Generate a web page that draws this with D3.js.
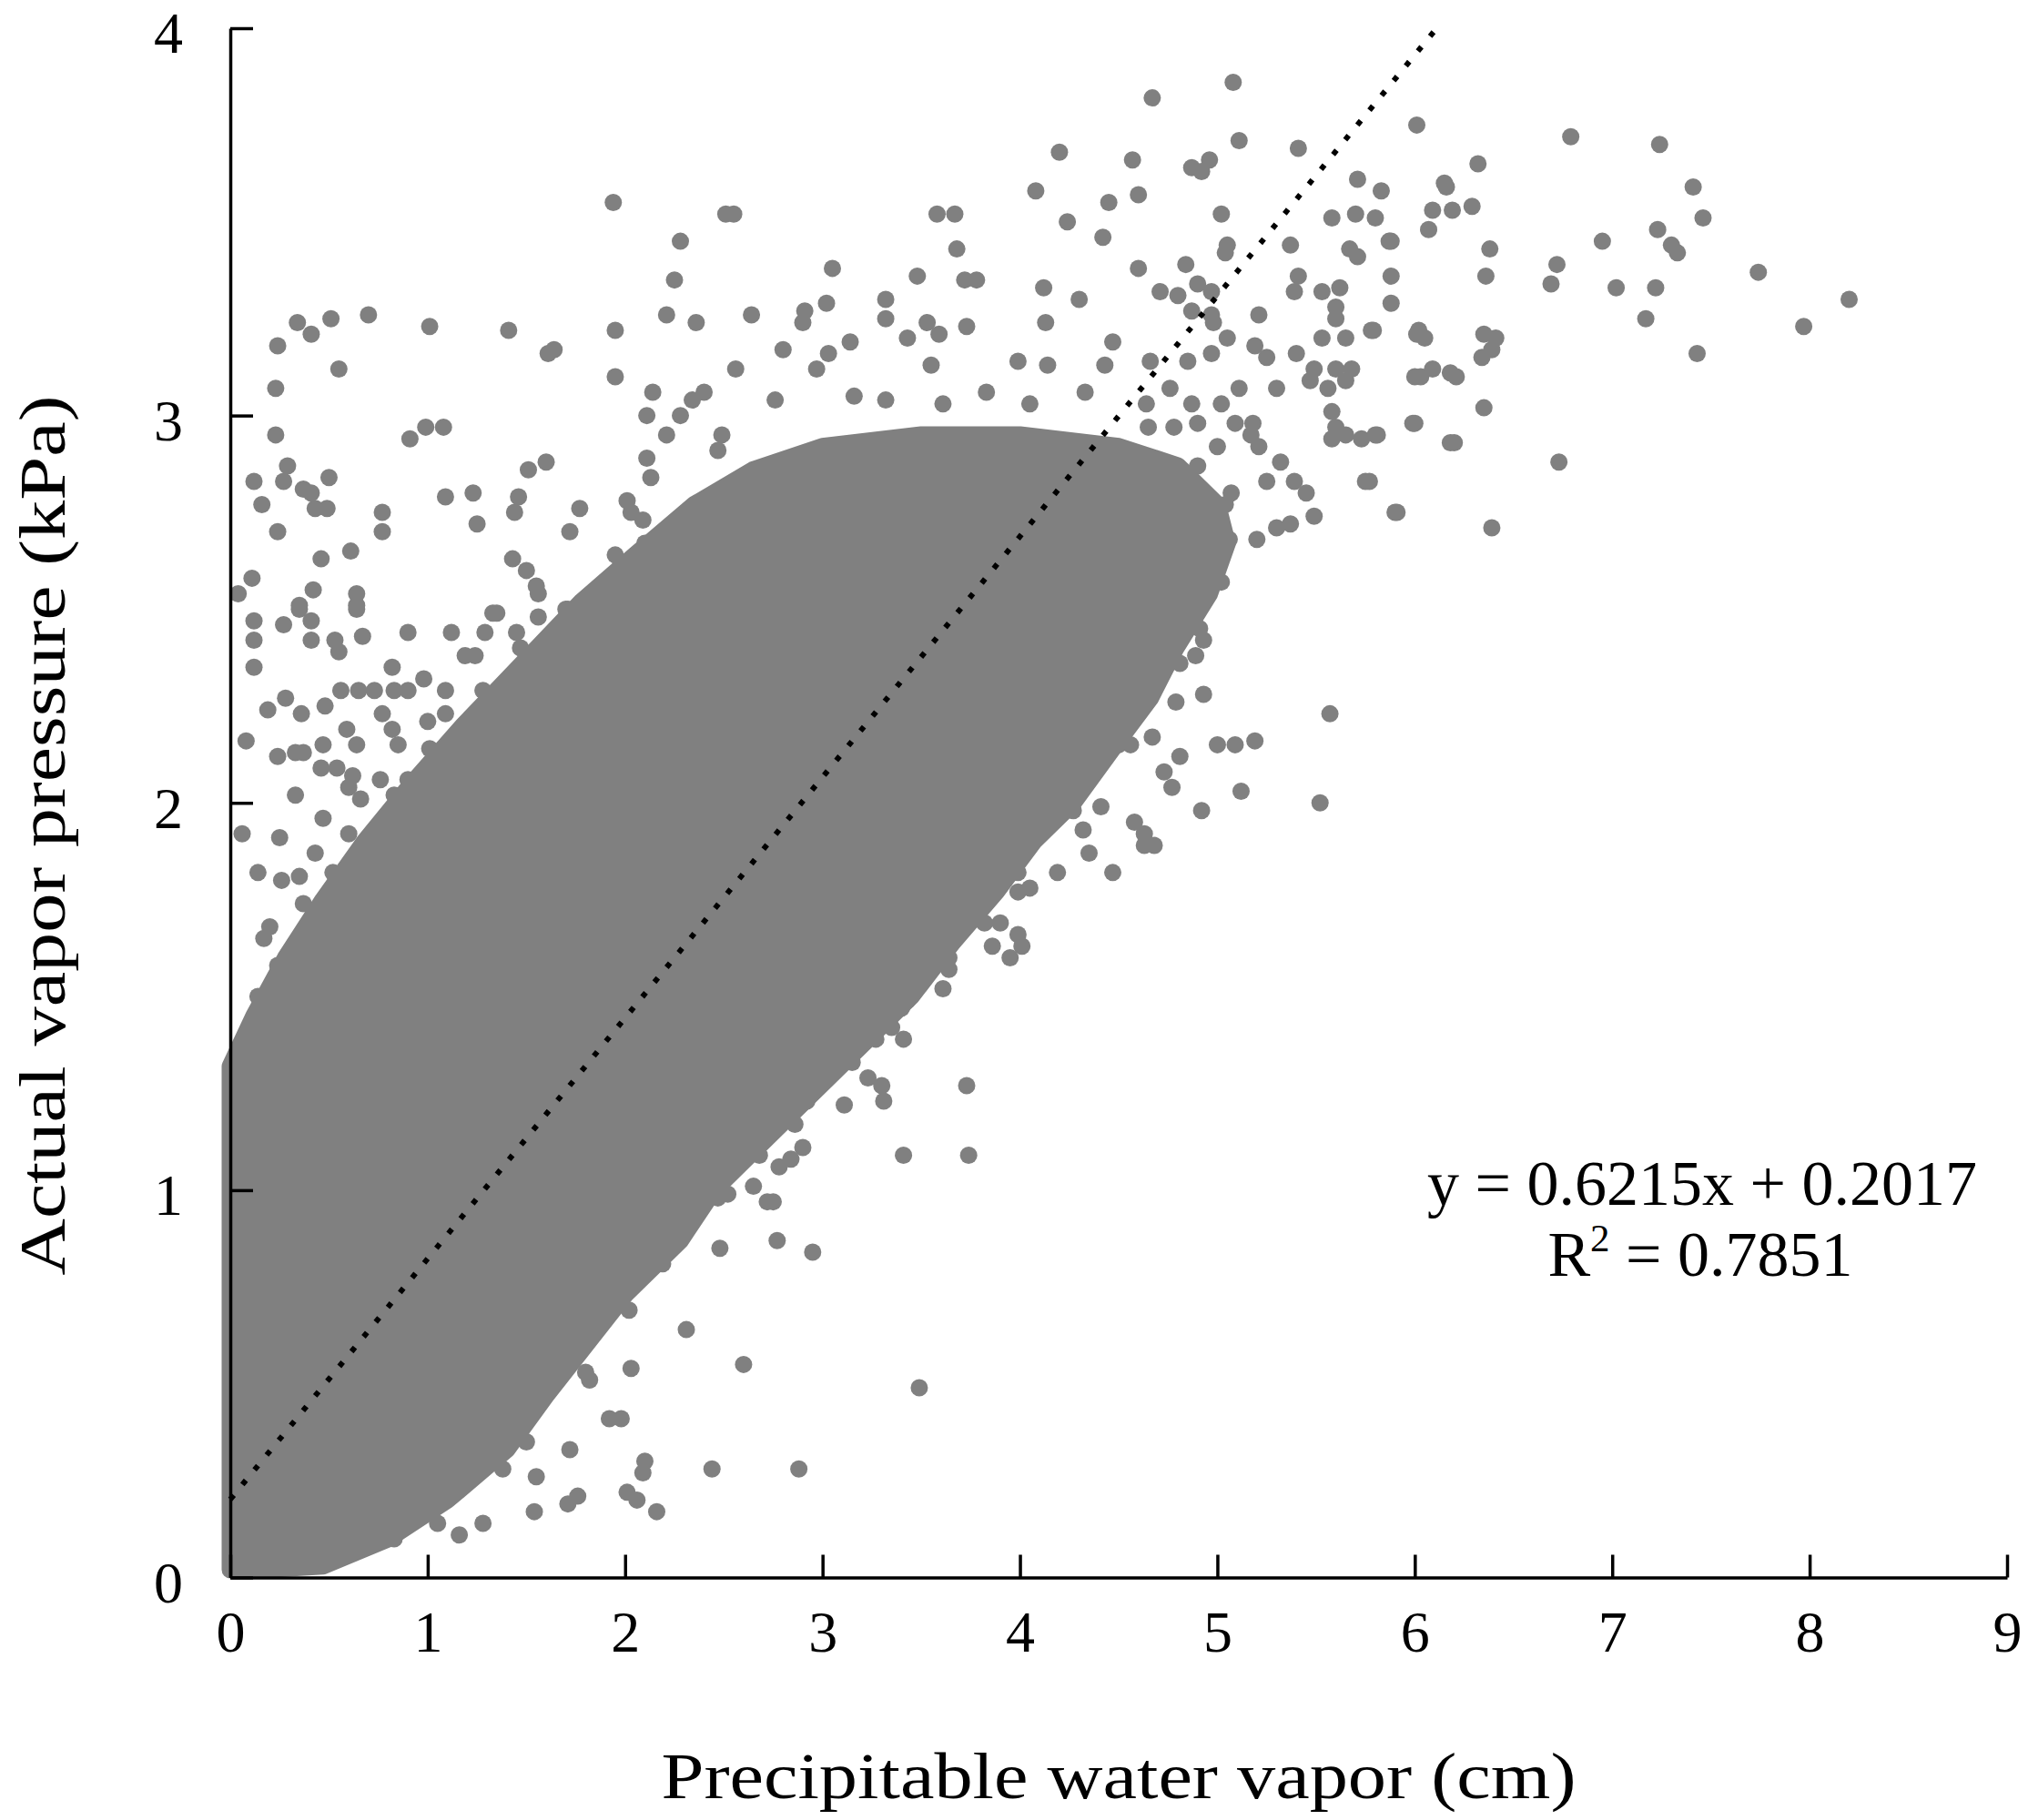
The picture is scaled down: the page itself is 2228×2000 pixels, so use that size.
<!DOCTYPE html>
<html>
<head>
<meta charset="utf-8">
<script src="https://cdn.jsdelivr.net/npm/d3@7"></script>
<style>
  body { margin: 0; background: #fff; }
  svg { display: block; }
  text { font-family: "Liberation Serif", "Times New Roman", serif; fill: #000; }
</style>
</head>
<body>
<div id="chart"></div>
<script>
// axis ticks
var xTicks = [0, 1, 2, 3, 4, 5, 6, 7, 8, 9];
var yTicks = [0, 1, 2, 3, 4];
var xTitle = 'Precipitable water vapor (cm)';
var yTitle = 'Actual vapor pressure (kPa)';

// fitted line as printed on the chart
var fitSlope = 0.6215, fitIntercept = 0.2017, fitR2 = 0.7851;
var trendLine = [[0, 0.2017], [6.111, 4]];

// outline of the saturated (solid) part of the cloud, [pwv, e]
var coreOutline = [
  [0, 0.02], [0, 1.32], [0.12, 1.45], [0.28, 1.6], [0.47, 1.75], [0.68, 1.9], [0.92, 2.05], [1.18, 2.2],
  [1.48, 2.36], [1.78, 2.52], [2.05, 2.64], [2.35, 2.77], [2.65, 2.86], [3.0, 2.92], [3.5, 2.95], [4.0, 2.95],
  [4.5, 2.92], [4.8, 2.87], [5.0, 2.77], [5.05, 2.67], [4.96, 2.54], [4.79, 2.40], [4.66, 2.27], [4.47, 2.14],
  [4.27, 2.0], [4.07, 1.9], [3.88, 1.77], [3.66, 1.64], [3.45, 1.5], [3.25, 1.4], [3.05, 1.3], [2.85, 1.2],
  [2.65, 1.1], [2.45, 1.0], [2.28, 0.87], [2.0, 0.73], [1.8, 0.6], [1.6, 0.47], [1.4, 0.33], [1.1, 0.2],
  [0.8, 0.1], [0.47, 0.03], [0.14, 0.02]
];

// scattered observations outside the solid cloud, [pwv, e]
var upperLeftPoints = [
  [1.94, 3.55], [2.28, 3.45], [2.25, 3.35], [2.21, 3.26], [2.36, 3.24], [1.95, 3.22], [1.95, 3.10], [2.51, 3.52],
  [2.14, 3.06], [2.11, 3.00], [2.21, 2.95], [2.28, 3.00], [2.34, 3.04], [2.40, 3.06], [2.11, 2.89], [2.13, 2.84],
  [2.47, 2.91], [2.49, 2.95], [0.34, 3.24], [0.41, 3.21], [0.51, 3.25], [0.70, 3.26], [0.24, 3.18], [0.55, 3.12],
  [0.23, 3.07], [0.23, 2.95], [1.01, 3.23], [1.41, 3.22], [1.61, 3.16], [1.64, 3.17], [0.91, 2.94], [0.99, 2.97],
  [1.08, 2.97], [0.29, 2.87], [0.27, 2.83], [0.12, 2.83], [0.16, 2.77], [0.37, 2.81], [0.41, 2.80], [0.43, 2.76],
  [0.49, 2.76], [0.50, 2.84], [0.24, 2.70], [0.77, 2.75], [0.77, 2.70], [1.09, 2.79], [1.23, 2.80], [1.25, 2.72],
  [1.46, 2.79], [1.44, 2.75], [1.51, 2.86], [1.60, 2.88], [1.77, 2.76], [1.72, 2.70], [1.95, 2.64], [1.43, 2.63],
  [1.50, 2.60], [1.55, 2.56], [0.46, 2.63], [0.61, 2.65], [0.11, 2.58], [0.04, 2.54], [0.42, 2.55], [0.35, 2.51],
  [0.64, 2.54], [0.64, 2.51], [2.09, 2.73], [2.10, 2.67], [2.22, 2.63], [2.01, 2.78], [2.03, 2.75],
  [1.33, 2.49], [1.56, 2.48], [1.70, 2.50], [1.87, 2.46]
];

var leftPoints = [
  [0.12, 2.47], [0.12, 2.42], [0.12, 2.35], [0.27, 2.46], [0.41, 2.47], [0.35, 2.50], [0.41, 2.42], [0.53, 2.42],
  [0.55, 2.39], [0.64, 2.50], [0.67, 2.43], [0.90, 2.44], [1.12, 2.44], [1.19, 2.38], [1.24, 2.38], [1.35, 2.49],
  [1.29, 2.44], [1.45, 2.44], [1.47, 2.40], [1.56, 2.54], [1.71, 2.50], [1.77, 2.47], [1.69, 2.41], [1.78, 2.40],
  [1.89, 2.43], [2.06, 2.44], [0.08, 2.16], [0.19, 2.24], [0.28, 2.27], [0.36, 2.23], [0.48, 2.25], [0.56, 2.29],
  [0.65, 2.29], [0.73, 2.29], [0.83, 2.29], [0.90, 2.29], [0.98, 2.32], [0.82, 2.35], [0.77, 2.23], [0.82, 2.19],
  [1.00, 2.21], [1.09, 2.23], [1.09, 2.29], [1.28, 2.29], [1.23, 2.20], [1.34, 2.24], [1.40, 2.21], [1.50, 2.32],
  [1.53, 2.23], [1.63, 2.32], [0.24, 2.12], [0.33, 2.13], [0.37, 2.13], [0.47, 2.15], [0.59, 2.19], [0.64, 2.15],
  [0.46, 2.09], [0.54, 2.09], [0.62, 2.07], [0.60, 2.04], [0.66, 2.01], [0.76, 2.06], [0.83, 2.02], [0.90, 2.06],
  [0.97, 2.03], [1.06, 2.04], [0.85, 2.15], [1.01, 2.14], [1.10, 2.13], [1.22, 2.14], [0.33, 2.02], [0.06, 1.92],
  [0.14, 1.82], [0.25, 1.91], [0.26, 1.80], [0.20, 1.68], [0.17, 1.65], [0.35, 1.81], [0.43, 1.87], [0.47, 1.96],
  [0.37, 1.74], [0.60, 1.92], [0.52, 1.82], [0.58, 1.81], [0.62, 1.77], [0.71, 1.87], [0.72, 1.82], [0.83, 1.82],
  [0.91, 1.96], [0.78, 1.93], [0.52, 1.71], [0.66, 1.75], [0.70, 1.71], [0.74, 1.66], [0.83, 1.68], [0.24, 1.58],
  [0.33, 1.54], [0.46, 1.60], [0.52, 1.58], [0.58, 1.63], [0.66, 1.64], [0.14, 1.50], [0.19, 1.46], [0.26, 1.47],
  [0.37, 1.47], [0.47, 1.51], [0.58, 1.50], [0.68, 1.54], [0.77, 1.49], [0.08, 1.37], [0.16, 1.33], [0.20, 1.38],
  [0.32, 1.35], [0.41, 1.32], [0.42, 1.39], [0.52, 1.38], [0.21, 1.26], [0.23, 1.20], [0.33, 1.21], [0.29, 1.17],
  [0.15, 1.13], [0.12, 1.06], [0.23, 1.09], [0.21, 1.03], [0.31, 1.06], [0.11, 0.91], [0.06, 0.72]
];

var topPoints = [
  [5.08, 3.86], [4.67, 3.82], [6.01, 3.75], [5.11, 3.71], [5.41, 3.69], [4.20, 3.68], [4.57, 3.66], [4.87, 3.64],
  [4.96, 3.66], [4.92, 3.63], [4.08, 3.58], [4.60, 3.57], [4.45, 3.55], [4.24, 3.50], [4.42, 3.46], [5.02, 3.52],
  [5.71, 3.61], [5.83, 3.58], [5.58, 3.51], [5.70, 3.52], [5.80, 3.51], [6.15, 3.60], [6.09, 3.53], [6.07, 3.48],
  [5.37, 3.44], [5.05, 3.44], [5.04, 3.42], [5.87, 3.45], [5.67, 3.43], [5.71, 3.41], [2.55, 3.52], [3.58, 3.52],
  [3.67, 3.52], [3.68, 3.43], [3.05, 3.38], [3.48, 3.36], [3.72, 3.35], [3.78, 3.35], [4.12, 3.33], [4.60, 3.38],
  [4.84, 3.39], [5.41, 3.36], [5.39, 3.32], [5.88, 3.36], [5.88, 3.29], [5.53, 3.32], [5.62, 3.33], [5.60, 3.28],
  [5.60, 3.25], [3.02, 3.29], [4.30, 3.30], [4.71, 3.32], [4.80, 3.31], [4.90, 3.34], [4.97, 3.32], [2.64, 3.26],
  [2.90, 3.24], [2.91, 3.27], [3.32, 3.30], [3.32, 3.25], [4.13, 3.24], [5.21, 3.26], [4.97, 3.26], [4.98, 3.24],
  [4.87, 3.27], [5.78, 3.22], [6.01, 3.21], [5.53, 3.20], [5.65, 3.20], [3.53, 3.24], [3.59, 3.21], [3.43, 3.20],
  [3.73, 3.23], [5.05, 3.20], [4.47, 3.19], [2.80, 3.17], [3.14, 3.19], [5.19, 3.18], [5.25, 3.15], [5.40, 3.16],
  [6.09, 3.12], [6.00, 3.10], [6.18, 3.11], [5.49, 3.12], [5.68, 3.12], [5.60, 3.12], [5.47, 3.09], [5.56, 3.07],
  [5.65, 3.09], [4.97, 3.16], [4.85, 3.14], [4.43, 3.13], [4.66, 3.14], [2.56, 3.12], [2.97, 3.12], [3.03, 3.16],
  [3.55, 3.13], [3.99, 3.14], [4.14, 3.13], [5.11, 3.07], [5.30, 3.07], [2.76, 3.04], [3.16, 3.05], [3.32, 3.04],
  [3.61, 3.03], [3.83, 3.06], [4.05, 3.03], [4.33, 3.06], [4.64, 3.03], [4.76, 3.07], [5.02, 3.03]
];

var upperRightPoints = [
  [5.58, 3.01], [5.99, 2.98], [6.18, 2.93], [5.60, 2.97], [5.65, 2.95], [5.58, 2.94], [5.73, 2.94], [5.80, 2.95],
  [5.18, 2.98], [5.17, 2.95], [5.21, 2.92], [5.32, 2.88], [5.75, 2.83], [5.91, 2.75], [5.25, 2.83], [5.39, 2.83],
  [5.45, 2.80], [5.49, 2.74], [5.07, 2.80], [5.04, 2.77], [5.06, 2.68], [5.20, 2.68], [5.30, 2.71], [5.37, 2.72],
  [4.99, 2.61], [5.02, 2.57], [4.90, 2.87], [5.00, 2.92], [5.09, 2.98], [4.90, 2.98], [4.87, 3.03], [4.65, 2.97],
  [4.78, 2.97], [6.79, 3.72], [7.24, 3.70], [6.32, 3.65], [6.16, 3.59], [7.41, 3.59], [7.46, 3.51], [6.19, 3.53],
  [6.29, 3.54], [5.88, 3.45], [6.38, 3.43], [6.95, 3.45], [7.23, 3.48], [7.30, 3.44], [7.33, 3.42], [6.72, 3.39],
  [6.69, 3.34], [6.36, 3.36], [7.02, 3.33], [7.22, 3.33], [7.74, 3.37], [8.20, 3.30], [7.17, 3.25], [7.97, 3.23],
  [7.43, 3.16], [5.79, 3.22], [6.02, 3.22], [6.05, 3.20], [6.35, 3.21], [6.41, 3.20], [6.39, 3.17], [6.34, 3.15],
  [6.03, 3.10], [6.21, 3.10], [6.35, 3.02], [6.00, 2.98], [5.81, 2.95], [6.20, 2.93], [6.73, 2.88], [5.77, 2.83],
  [5.90, 2.75], [6.39, 2.71]
];

var rightPoints = [
  [5.57, 2.23], [4.93, 2.28], [4.79, 2.26], [5.00, 2.15], [5.09, 2.15], [5.19, 2.16], [5.12, 2.03], [5.52, 2.00],
  [4.92, 1.98], [4.73, 2.08], [4.81, 2.12], [4.77, 2.04], [4.58, 1.95], [4.63, 1.92], [4.68, 1.89], [4.63, 1.89],
  [4.47, 1.82], [4.19, 1.82], [4.35, 1.87], [4.32, 1.93], [4.27, 1.98], [4.41, 1.99], [4.04, 1.90], [3.99, 1.82],
  [3.99, 1.77], [4.05, 1.78], [3.87, 1.87], [4.40, 2.13], [4.50, 2.15], [4.56, 2.15], [4.67, 2.17], [4.93, 2.42],
  [4.91, 2.45], [4.81, 2.36], [4.89, 2.38], [4.67, 2.29], [4.67, 2.35], [3.51, 1.73], [3.54, 1.71], [3.67, 1.69],
  [3.82, 1.69], [3.90, 1.69], [3.99, 1.66], [4.01, 1.63], [3.86, 1.63], [3.95, 1.60], [3.64, 1.60], [3.64, 1.57],
  [3.61, 1.52], [3.46, 1.54], [3.43, 1.49], [3.37, 1.52], [3.35, 1.49], [3.41, 1.39], [3.27, 1.39], [3.29, 1.43],
  [3.35, 1.42], [3.40, 1.47]
];

var lowerRightPoints = [
  [3.73, 1.27], [3.74, 1.09], [3.41, 1.09], [3.11, 1.22], [3.23, 1.29], [3.30, 1.27], [3.31, 1.23], [3.06, 1.33],
  [3.15, 1.33], [2.96, 1.31], [2.92, 1.23], [2.86, 1.17], [2.90, 1.11], [2.84, 1.08], [2.78, 1.06], [2.75, 0.97],
  [2.54, 1.29], [2.64, 1.26], [2.74, 1.23], [2.84, 1.21], [2.90, 1.24], [2.43, 1.18], [2.54, 1.14], [2.64, 1.13],
  [2.74, 1.16], [2.45, 1.07], [2.55, 1.07], [2.68, 1.09], [2.47, 0.98], [2.52, 0.99], [2.65, 1.01], [2.72, 0.97],
  [2.77, 0.87], [2.48, 0.85], [2.95, 0.84], [2.31, 0.64], [2.03, 0.54], [2.60, 0.55], [1.80, 0.53], [1.82, 0.51],
  [1.92, 0.41], [1.98, 0.41], [1.50, 0.35], [1.72, 0.33], [1.38, 0.28], [1.55, 0.26], [2.10, 0.30], [2.09, 0.27],
  [2.44, 0.28], [2.88, 0.28], [2.01, 0.22], [2.06, 0.20], [2.16, 0.17], [1.54, 0.17], [1.71, 0.19], [1.76, 0.21],
  [1.28, 0.14], [1.16, 0.11], [1.05, 0.14], [0.99, 0.19], [1.03, 0.22], [1.09, 0.20], [0.83, 0.10], [0.68, 0.10],
  [0.42, 0.05], [2.02, 0.69], [1.94, 0.72], [2.19, 0.81], [2.16, 0.83], [2.02, 0.77], [1.62, 0.58], [1.48, 0.55],
  [1.38, 0.47], [1.81, 0.65], [1.73, 0.64], [3.49, 0.49]
];

var width = 2228, height = 2000;
var dotColor = '#808080';
var dotRadius = 9.5;

var svg = d3.select('#chart').append('svg').attr('width', width).attr('height', height);

var x = d3.scaleLinear().domain([0, 9]).range([253, 2205]);
var y = d3.scaleLinear().domain([0, 4]).range([1733.5, 31]);

// solid part of the cloud, stroked so its edge is as round as a dot
var line = d3.line().x(function(d) { return x(d[0]); }).y(function(d) { return y(d[1]); });
svg.append('path').datum(coreOutline)
  .attr('d', line.curve(d3.curveLinearClosed))
  .attr('fill', dotColor).attr('stroke', dotColor)
  .attr('stroke-width', dotRadius * 2).attr('stroke-linejoin', 'round');

var allPoints = [].concat(upperLeftPoints, leftPoints, topPoints, upperRightPoints, rightPoints, lowerRightPoints);
svg.append('g').selectAll('circle').data(allPoints).enter().append('circle')
  .attr('cx', function(d) { return x(d[0]); })
  .attr('cy', function(d) { return y(d[1]); })
  .attr('r', dotRadius)
  .attr('fill', dotColor);

// regression line, dotted
svg.append('path').datum(trendLine)
  .attr('d', d3.line().x(function(d) { return x(d[0]); }).y(function(d) { return y(d[1]); }))
  .attr('fill', 'none').attr('stroke', '#000')
  .attr('stroke-width', 6).attr('stroke-dasharray', '6 15');

// axes with inward ticks
var xAxis = svg.append('g').attr('transform', 'translate(0,' + y(0) + ')')
  .call(d3.axisBottom(x).tickValues(xTicks).tickFormat(d3.format('d')).tickSizeInner(-25).tickSizeOuter(0).tickPadding(36));
var yAxis = svg.append('g').attr('transform', 'translate(' + x(0) + ',0)')
  .call(d3.axisLeft(y).tickValues(yTicks).tickFormat(d3.format('d')).tickSizeInner(-25).tickSizeOuter(0).tickPadding(52));
[xAxis, yAxis].forEach(function(g) {
  g.select('.domain').attr('stroke', '#000').attr('stroke-width', 3.5);
  g.selectAll('.tick line').attr('stroke', '#000').attr('stroke-width', 3.5);
  g.selectAll('.tick text').attr('font-family', '"Liberation Serif", serif').attr('font-size', 64).attr('fill', '#000');
});
yAxis.selectAll('.tick text').attr('dy', '0.42em');

svg.append('text').attr('x', 1229).attr('y', 1976).attr('text-anchor', 'middle')
  .attr('font-size', 72).attr('textLength', 1005).attr('lengthAdjust', 'spacingAndGlyphs').text(xTitle);
svg.append('text').attr('transform', 'translate(71,918) rotate(-90)').attr('text-anchor', 'middle')
  .attr('font-size', 72).attr('textLength', 967).attr('lengthAdjust', 'spacingAndGlyphs').text(yTitle);

// equation label
svg.append('text').attr('x', 1870).attr('y', 1324).attr('text-anchor', 'middle').attr('font-size', 70)
  .text('y = ' + fitSlope + 'x + ' + fitIntercept);
var r2 = svg.append('text').attr('x', 1868).attr('y', 1402).attr('text-anchor', 'middle').attr('font-size', 70);
r2.append('tspan').text('R');
r2.append('tspan').attr('font-size', 43).attr('dy', -27).text('2');
r2.append('tspan').attr('dy', 27).text(' = ' + fitR2);
</script>
</body>
</html>
